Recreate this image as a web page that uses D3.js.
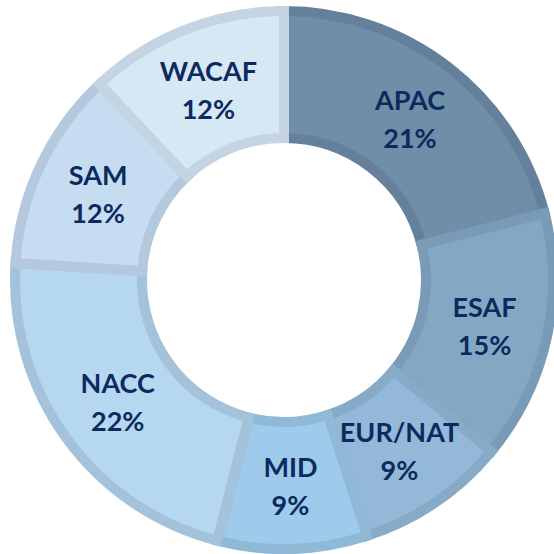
<!DOCTYPE html>
<html>
<head>
<meta charset="utf-8">
<script src="https://cdn.jsdelivr.net/npm/d3@7"></script>
<style>
  html, body { margin: 0; padding: 0; background: #fff; }
  svg { display: block; }
</style>
</head>
<body>
<div id="chart"></div>
<script>
  const regions = ["APAC", "ESAF", "EUR/NAT", "MID", "NACC", "SAM", "WACAF"];
  const shares = [21, 15, 9, 9, 22, 12, 12];
  const fills = ["#6f8ea8", "#84a8c4", "#93b8d8", "#9ecbeb", "#b6d7f0", "#c6ddf1", "#d7e8f5"];
  const strokes = ["#64809a", "#7a9bb7", "#87aac6", "#8fb9d7", "#a4c3da", "#b4c9dd", "#c4d4e2"];

  const width = 554,
    height = 554,
    cx = 284,
    cy = 280,
    innerRadius = 142,
    outerRadius = 269;

  const data = regions.map((r, i) => ({ region: r, share: shares[i], i }));

  const arcs = d3.pie().sort(null).value(d => d.share)(data);

  const arc = d3.arc().innerRadius(innerRadius).outerRadius(outerRadius);

  const svg = d3.select("#chart")
    .append("svg")
    .attr("width", width)
    .attr("height", height);

  const g = svg.append("g")
    .attr("transform", `translate(${cx},${cy})`);

  g.append("g")
    .attr("stroke-width", 10)
    .attr("stroke-linejoin", "miter")
    .selectAll("path")
    .data(arcs)
    .join("path")
    .attr("fill", d => fills[d.data.i])
    .attr("stroke", d => strokes[d.data.i])
    .attr("d", arc);

  g.append("g")
    .attr("font-family", "Lato, 'Open Sans', sans-serif")
    .attr("font-weight", "bold")
    .attr("font-size", 27)
    .attr("fill", "#0c2a5e")
    .attr("text-anchor", "middle")
    .selectAll("text")
    .data(arcs)
    .join("text")
    .attr("transform", d => `translate(${arc.centroid(d)})`)
    .selectAll("tspan")
    .data(d => [d.data.region, d.data.share + "%"])
    .join("tspan")
    .attr("x", 0)
    .attr("y", (d, i) => i ? 30 : -8)
    .text(d => d);
</script>
</body>
</html>
